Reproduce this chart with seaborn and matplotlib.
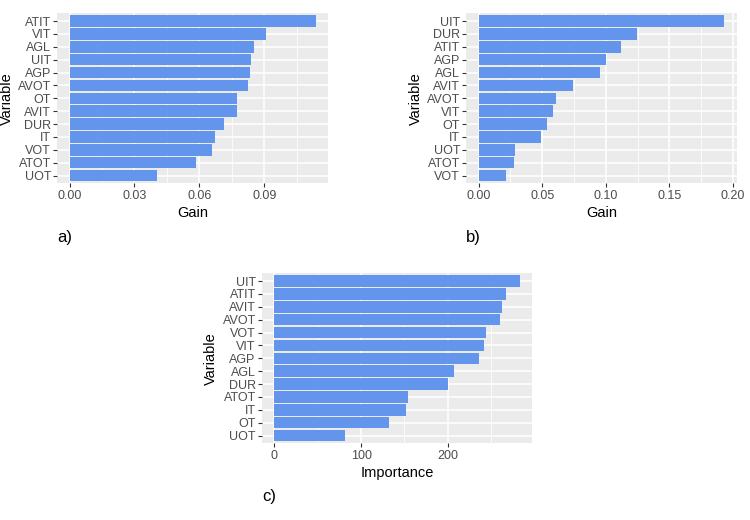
import matplotlib
matplotlib.use("Agg")
import matplotlib.pyplot as plt
import seaborn as sns
import pandas as pd
import numpy as np

# Panel a
vars_a = ["ATIT", "VIT", "AGL", "UIT", "AGP", "AVOT", "OT", "AVIT", "DUR", "IT", "VOT", "ATOT", "UOT"]
gain_a = [0.1138, 0.0906, 0.0855, 0.0838, 0.0836, 0.0827, 0.0776, 0.0772, 0.0716, 0.0674, 0.0660, 0.0586, 0.0405]
# Panel b
vars_b = ["UIT", "DUR", "ATIT", "AGP", "AGL", "AVIT", "AVOT", "VIT", "OT", "IT", "UOT", "ATOT", "VOT"]
gain_b = [0.1932, 0.1247, 0.1121, 0.1003, 0.0955, 0.0743, 0.0609, 0.0585, 0.0538, 0.0491, 0.0286, 0.0278, 0.0215]
# Panel c
vars_c = ["UIT", "ATIT", "AVIT", "AVOT", "VOT", "VIT", "AGP", "AGL", "DUR", "ATOT", "IT", "OT", "UOT"]
imp_c = [282.8, 266.7, 262.1, 259.8, 243.7, 241.4, 235.6, 206.9, 200.0, 154.0, 151.7, 132.2, 81.6]

ticks_a = [0.0, 0.03, 0.06, 0.09]
ticklabels_a = ["0.00", "0.03", "0.06", "0.09"]
ticks_b = [0.0, 0.05, 0.10, 0.15, 0.20]
ticklabels_b = ["0.00", "0.05", "0.10", "0.15", "0.20"]
ticks_c = [0, 100, 200]
ticklabels_c = ["0", "100", "200"]

sns.set_theme(style="darkgrid")
plt.rcParams["font.family"] = ["Liberation Sans", "DejaVu Sans"]

fig = plt.figure(figsize=(7.5, 5.2), dpi=100)

BAR = "#6495ED"
BG = "#EBEBEB"

def panel(rect, cats, vals, ticks, ticklabels, xlabel, letter, letter_xy):
    ax = fig.add_axes(rect)
    df = pd.DataFrame({"Variable": cats, "Value": vals})
    sns.barplot(data=df, x="Value", y="Variable", orient="h", color=BAR,
                saturation=1, width=0.9, ax=ax, edgecolor="none", linewidth=0, zorder=3)
    vmax = max(vals)
    ax.set_xlim(-0.05 * vmax, 1.05 * vmax)
    n = len(cats)
    ax.set_ylim(n - 1 + 0.6, -0.6)
    ax.set_facecolor(BG)
    ax.set_xticks(ticks)
    ax.set_xticklabels(ticklabels)
    step = ticks[1] - ticks[0]
    minors = [t + step / 2 for t in ticks if t + step / 2 < 1.05 * vmax]
    ax.set_xticks(minors, minor=True)
    ax.grid(True, which="major", color="white", linewidth=1.1, zorder=0)
    ax.grid(True, which="minor", axis="x", color="white", linewidth=0.55, zorder=0)
    ax.set_axisbelow(True)
    for s in ax.spines.values():
        s.set_visible(False)
    ax.tick_params(axis="both", which="major", length=3, width=0.8, color="#333333",
                   labelsize=9, labelcolor="#4D4D4D", pad=1.5, left=True, bottom=True)
    ax.tick_params(axis="x", which="minor", length=0)
    ax.set_xlabel(xlabel, fontsize=10.5, color="black", labelpad=3)
    ax.set_ylabel("Variable", fontsize=10.5, color="black", labelpad=3)
    fig.text(letter_xy[0] / 750, 1 - letter_xy[1] / 520, letter, fontsize=12,
             ha="center", va="center", color="black")
    return ax

panel([57.3 / 750, 1 - 183.3 / 520, 270.7 / 750, 170 / 520], vars_a, gain_a,
      ticks_a, ticklabels_a, "Gain", "a)", (65, 238))
panel([466.3 / 750, 1 - 183.3 / 520, 270.4 / 750, 170 / 520], vars_b, gain_b,
      ticks_b, ticklabels_b, "Gain", "b)", (473, 238))
panel([262 / 750, 1 - 443.3 / 520, 270 / 750, 170 / 520], vars_c, imp_c,
      ticks_c, ticklabels_c, "Importance", "c)", (269, 497))

fig.savefig("out.png", dpi=100)
